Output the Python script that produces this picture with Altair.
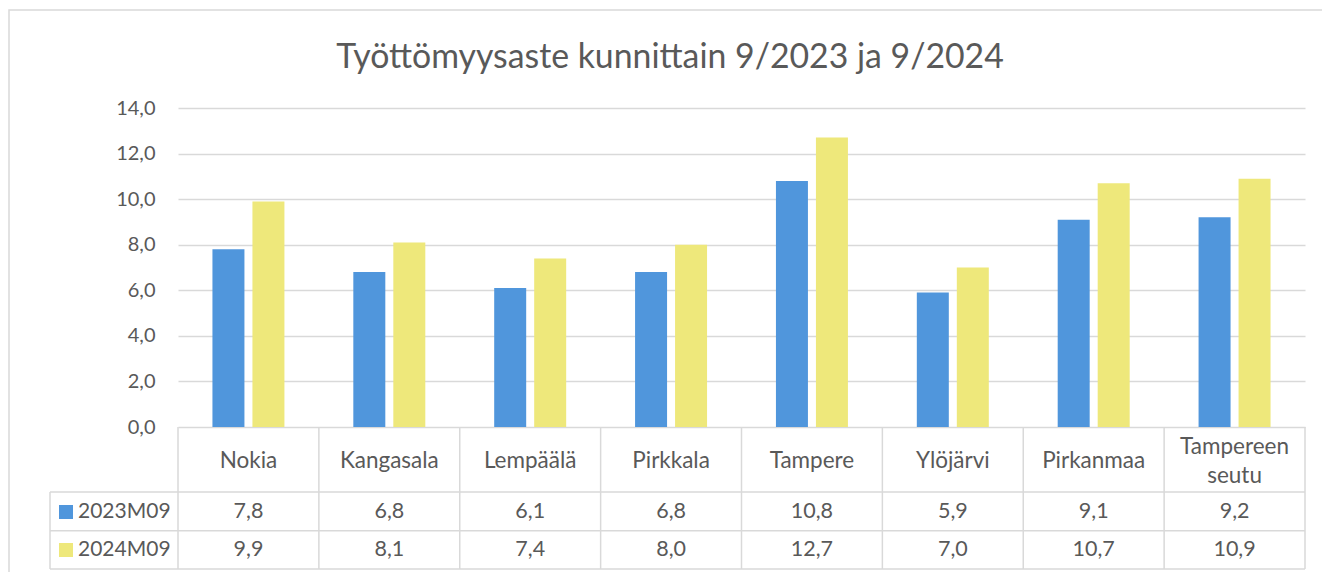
import altair as alt
import pandas as pd

categories = ["Nokia", "Kangasala", "Lempäälä", "Pirkkala", "Tampere",
              "Ylöjärvi", "Pirkanmaa", "Tampereen seutu"]
series = ["2023M09", "2024M09"]
values_2023 = [7.8, 6.8, 6.1, 6.8, 10.8, 5.9, 9.1, 9.2]
values_2024 = [9.9, 8.1, 7.4, 8.0, 12.7, 7.0, 10.7, 10.9]
colors = ["#5096dc", "#eee87b"]
title_text = "Työttömyysaste kunnittain 9/2023 ja 9/2024"

FONT = "Lato"
TXT = "#595959"
LINE = "#d9d9d9"
W, H = 1127, 319

rows = []
for s, vals in zip(series, [values_2023, values_2024]):
    for c, v in zip(categories, vals):
        rows.append({"cat": c, "series": s, "value": v,
                     "label": f"{v:.1f}".replace(".", ",")})
df = pd.DataFrame(rows)
cat_df = pd.DataFrame({"cat": categories,
                       "header": [c.replace(" ", "\n") for c in categories],
                       "multi": [(" " in c) for c in categories]})
one = alt.Data(values=[{"k": 1}])

bars = alt.Chart(df).mark_bar().encode(
    x=alt.X("cat:N", sort=categories, axis=None,
            scale=alt.Scale(domain=categories, paddingInner=0.489, paddingOuter=0.2445)),
    xOffset=alt.XOffset("series:N", sort=series,
                        scale=alt.Scale(paddingInner=0.2, paddingOuter=0)),
    y=alt.Y("value:Q", scale=alt.Scale(domain=[0, 14]),
            axis=alt.Axis(values=list(range(0, 15, 2)), domain=False, ticks=False,
                          grid=True, gridColor=LINE, gridWidth=1.5,
                          labelExpr="replace(format(datum.value, '.1f'), '.', ',')",
                          labelFont=FONT, labelFontSize=20, labelColor=TXT,
                          labelPadding=23, title=None)),
    color=alt.Color("series:N", sort=series,
                    scale=alt.Scale(domain=series, range=colors), legend=None),
)

vlines = alt.Chart(cat_df).mark_rule(color=LINE, strokeWidth=1.5).encode(
    x=alt.X("cat:N", sort=categories, axis=None, bandPosition=0,
            scale=alt.Scale(type="band", domain=categories, paddingInner=0, paddingOuter=0)),
    y=alt.value(H), y2=alt.value(461),
)

def hline(y, x0=-128, x1=W):
    return alt.Chart(one).mark_rule(color=LINE, strokeWidth=1.5).encode(
        x=alt.value(x0), x2=alt.value(x1), y=alt.value(y))

def vline(x, y0, y1):
    return alt.Chart(one).mark_rule(color=LINE, strokeWidth=1.5).encode(
        x=alt.value(x), y=alt.value(y0), y2=alt.value(y1))

lines = [hline(384), hline(422.7), hline(461), vline(W, H, 461), vline(-128, 384, 461)]

frame = alt.Chart(one).mark_rect(fill=None, stroke=LINE, strokeWidth=1.5).encode(
    x=alt.value(-169), x2=alt.value(1170), y=alt.value(-98), y2=alt.value(520))

def cat_x():
    return alt.X("cat:N", sort=categories, axis=None,
                 scale=alt.Scale(type="point", domain=categories, padding=0.5))

headers = []
for multi, yy in [(False, 353), (True, 338.5)]:
    headers.append(
        alt.Chart(cat_df).transform_filter(alt.datum.multi == multi).mark_text(
            font=FONT, fontSize=22.5, color=TXT, lineBreak="\n", lineHeight=29,
            baseline="middle").encode(
            x=cat_x(), y=alt.value(yy), text="header:N"))

value_layers = []
for i, (s, yy) in enumerate(zip(series, [404, 442])):
    value_layers.append(
        alt.Chart(df).transform_filter(alt.datum.series == s).mark_text(
            font=FONT, fontSize=21.5, color=TXT, baseline="middle").encode(
            x=cat_x(), y=alt.value(yy), text="label:N"))
    leg = alt.Data(values=[{"series": s}])
    value_layers.append(alt.Chart(leg).mark_square(size=196, opacity=1).encode(
        x=alt.value(-112), y=alt.value(yy), color=alt.value(colors[i])))
    value_layers.append(alt.Chart(leg).mark_text(
        font=FONT, fontSize=21, color=TXT, align="left", baseline="middle").encode(
        x=alt.value(-100), y=alt.value(yy), text="series:N"))

title = alt.Chart(alt.Data(values=[{"t": title_text}])).mark_text(
    font=FONT, fontSize=33.8, color=TXT, baseline="middle").encode(
    x=alt.value(492), y=alt.value(-50), text="t:N")

chart = alt.layer(frame, bars, vlines, *lines, *headers, *value_layers, title).resolve_scale(
    x="independent"
).properties(
    width=W, height=H,
    autosize=alt.AutoSizeParams(type="none"),
    padding={"left": 170, "top": 100, "right": 17, "bottom": 145},
).configure_view(stroke=None)

chart.save("out.html", embed_options={"renderer": "svg", "actions": False})
